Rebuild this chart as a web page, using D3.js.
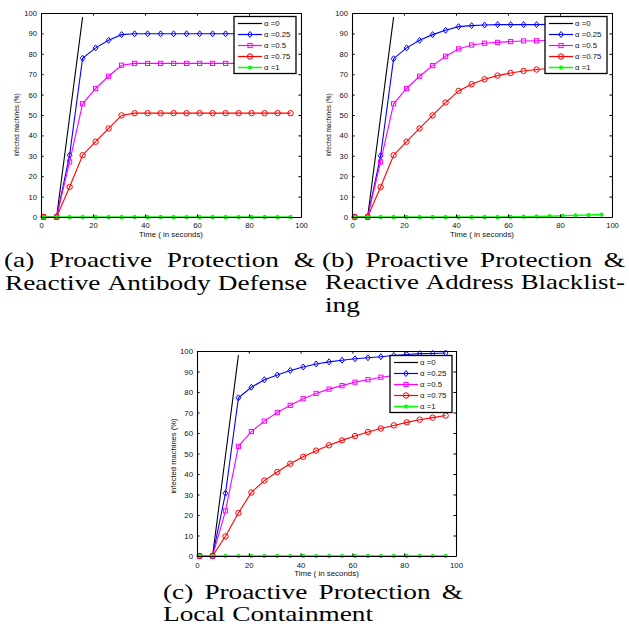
<!DOCTYPE html>
<html>
<head>
<meta charset="utf-8">
<script src="https://cdn.jsdelivr.net/npm/d3@7/dist/d3.min.js"></script>
<style>
  body { margin: 0; background: #fff; }
  .axis text, .lbl, .leg text { font-family: "Liberation Sans", Arial, sans-serif; fill: #111; }
  .cap { font-family: "Liberation Serif", "Times New Roman", serif; fill: #000; }
</style>
</head>
<body>
<script>
// sample times (seconds) shared by every curve
var time = [1, 6, 11, 16, 21, 26, 31, 36, 41, 46, 51, 56, 61, 66, 71, 76, 81, 86, 91, 96];
var alphaLabels = ["\u03b1 =0", "\u03b1 =0.25", "\u03b1 =0.5", "\u03b1 =0.75", "\u03b1 =1"];
var xTicks = [0, 20, 40, 60, 80, 100];
var yTicks = [0, 10, 20, 30, 40, 50, 60, 70, 80, 90, 100];

// (a) reactive antibody defense
var antibody0   = [0, 0, 49, 98];
var antibody25  = [0, 0, 30.3, 77.8, 82.9, 86.6, 89.4, 89.8, 89.8, 89.8, 89.8, 89.8, 89.8, 89.8, 89.8, 89.8, 89.8, 89.8, 89.8, 89.8];
var antibody50  = [0, 0, 27, 55.5, 63, 69, 74.4, 75.3, 75.3, 75.3, 75.3, 75.3, 75.3, 75.3, 75.3, 75.3, 75.3, 75.3, 75.3, 75.3];
var antibody75  = [0, 0, 14.7, 30.3, 36.9, 43.4, 49.8, 50.9, 50.9, 50.9, 50.9, 50.9, 50.9, 50.9, 50.9, 50.9, 50.9, 50.9, 50.9, 50.9];
var antibody100 = [0, 0, 0, 0, 0, 0, 0, 0, 0, 0, 0, 0, 0, 0, 0, 0, 0, 0, 0, 0];

// (b) reactive address blacklisting
var blacklist0   = [0, 0, 49, 98];
var blacklist25  = [0, 0, 30, 77.6, 82.9, 86.6, 89.4, 91.5, 93.3, 93.8, 94.1, 94.3, 94.3, 94.3, 94.3, 94.4, 94.4, 94.4, 94.4, 94.4];
var blacklist50  = [0, 0, 27, 55.5, 63, 69, 74.2, 78.8, 82.4, 84.3, 85.2, 85.6, 86, 86.3, 86.4, 86.5, 86.6, 86.6, 86.7, 86.7];
var blacklist75  = [0, 0, 14.7, 30.3, 36.9, 43.4, 49.8, 56.1, 61.8, 65.1, 67.5, 69.3, 70.6, 71.6, 72.3, 72.8, 73.2, 73.5, 73.7, 73.9];
var blacklist100 = [0, 0, 0, 0, 0, 0, 0, 0, 0, 0, 0, 0, 0.1, 0.2, 0.3, 0.4, 0.6, 0.8, 1.0, 1.2];

// (c) local containment
var contain0   = [0, 0, 49, 98];
var contain25  = [0, 0, 30.6, 77.2, 82.3, 86, 88.3, 90.5, 92.2, 93.7, 94.7, 95.5, 96.2, 96.7, 97.2, 97.8, 98.3, 98.7, 98.8, 99];
var contain50  = [0, 0, 22, 53.5, 60.7, 65.8, 70, 73.5, 76.7, 79.3, 81.4, 83.1, 84.8, 86, 87.2, 88, 88.8, 89.5, 90.1, 90.6];
var contain75  = [0, 0, 9.6, 21, 31, 36.8, 41, 45, 48.4, 51.4, 54, 56.4, 58.5, 60.5, 62.2, 63.7, 65.2, 66.5, 67.5, 68.5];
var contain100 = [0, 0, 0, 0, 0, 0, 0, 0, 0, 0, 0, 0, 0, 0, 0, 0, 0, 0, 0, 0];

var captionA = ["(a) Proactive Protection &", "Reactive Antibody Defense"];
var captionB = ["(b) Proactive Protection &", "Reactive Address Blacklist-", "ing"];
var captionC = ["(c) Proactive Protection &", "Local Containment"];

var colors = ["#000000", "#0000ff", "#ff00ff", "#ff0000", "#00ff00"];
var markers = [null, "diamond", "square", "circle", "star"];

var svg = d3.select("body").append("svg")
    .attr("width", 629)
    .attr("height", 633)
    .style("display", "block");
svg.append("rect").attr("width", 629).attr("height", 633).attr("fill", "#fff");

function drawMarker(g, type, x, y, color) {
    if (type == "diamond") {
        g.append("path")
            .attr("d", "M" + x + "," + (y - 3) + "L" + (x + 2.4) + "," + y + "L" + x + "," + (y + 3) + "L" + (x - 2.4) + "," + y + "Z")
            .attr("fill", "none").attr("stroke", color).attr("stroke-width", 1);
    } else if (type == "square") {
        g.append("rect").attr("x", x - 2.1).attr("y", y - 2.1).attr("width", 4.2).attr("height", 4.2)
            .attr("fill", "none").attr("stroke", color).attr("stroke-width", 1);
    } else if (type == "circle") {
        g.append("circle").attr("cx", x).attr("cy", y).attr("r", 2.7)
            .attr("fill", "none").attr("stroke", color).attr("stroke-width", 1);
    } else if (type == "star") {
        var r = 2, d = 1.5;
        g.append("path")
            .attr("d", "M" + (x - r) + "," + y + "h" + 2 * r + "M" + x + "," + (y - r) + "v" + 2 * r +
                "M" + (x - d) + "," + (y - d) + "l" + 2 * d + "," + 2 * d + "M" + (x - d) + "," + (y + d) + "l" + 2 * d + "," + (-2 * d))
            .attr("fill", "none").attr("stroke", color).attr("stroke-width", 1.2);
    }
}

function drawPanel(p) {
    var x = d3.scaleLinear().domain([0, 100]).range([p.left, p.right]);
    var y = d3.scaleLinear().domain([0, 100]).range([p.bottom, p.top]);
    var g = svg.append("g");

    // curves
    p.series.forEach(function(vals, i) {
        var pts = vals.map(function(v, k) { return [time[k], v]; });
        var line = d3.line().x(function(d) { return x(d[0]); }).y(function(d) { return y(d[1]); });
        g.append("path")
            .attr("d", line(pts))
            .attr("fill", "none")
            .attr("stroke", colors[i])
            .attr("stroke-width", i == 4 ? 1.4 : 1.1);
        if (markers[i]) {
            pts.forEach(function(d) { drawMarker(g, markers[i], x(d[0]), y(d[1]), colors[i]); });
        }
    });

    // axes, MATLAB style: box with inward ticks on all sides
    var tk = 2.6;
    g.append("g").attr("class", "axis")
        .attr("transform", "translate(0," + p.bottom + ")")
        .call(d3.axisBottom(x).tickValues(xTicks).tickSize(-tk).tickSizeOuter(0).tickPadding(6));
    g.append("g").attr("class", "axis")
        .attr("transform", "translate(0," + p.top + ")")
        .call(d3.axisTop(x).tickValues(xTicks).tickSize(-tk).tickSizeOuter(0).tickFormat(""));
    g.append("g").attr("class", "axis")
        .attr("transform", "translate(" + p.left + ",0)")
        .call(d3.axisLeft(y).tickValues(yTicks).tickSize(-tk).tickSizeOuter(0).tickPadding(4));
    g.append("g").attr("class", "axis")
        .attr("transform", "translate(" + p.right + ",0)")
        .call(d3.axisRight(y).tickValues(yTicks).tickSize(-tk).tickSizeOuter(0).tickFormat(""));
    g.selectAll(".axis text").style("font-size", p.tickFont + "px").attr("fill", "#111");
    g.selectAll(".axis path, .axis line").attr("stroke", "#000").attr("stroke-width", 1);
    g.selectAll(".axis path").attr("stroke-width", 1.1);

    // labels
    g.append("text").attr("class", "lbl")
        .attr("x", (p.left + p.right) / 2).attr("y", p.bottom + p.xlabelDy)
        .attr("text-anchor", "middle")
        .style("font-size", p.xlabelFont + "px")
        .text("Time ( in seconds)");
    g.append("text").attr("class", "lbl")
        .attr("transform", "translate(" + p.ylabelX + "," + p.ylabelY + ") rotate(-90)")
        .attr("text-anchor", "middle")
        .style("font-size", p.ylabelFont + "px")
        .text("infected machines (%)");

    // legend
    var lg = g.append("g").attr("class", "leg").attr("transform", "translate(" + p.legX + "," + p.legY + ")");
    lg.append("rect").attr("width", 62).attr("height", 57)
        .attr("fill", "#fff").attr("stroke", "#000").attr("stroke-width", 1.3);
    alphaLabels.forEach(function(lab, i) {
        var ly = 7 + i * 11;
        lg.append("line").attr("x1", 4).attr("x2", 28).attr("y1", ly).attr("y2", ly)
            .attr("stroke", colors[i]).attr("stroke-width", i == 4 ? 1.5 : 1.2);
        if (markers[i]) drawMarker(lg, markers[i], 16, ly, colors[i]);
        lg.append("text").attr("x", 30).attr("y", ly + 2.8)
            .style("font-size", "7.8px").text(lab);
    });
}

drawPanel({left: 41, right: 301, top: 13, bottom: 217, series: [antibody0, antibody25, antibody50, antibody75, antibody100],
    tickFont: 7.6, xlabelFont: 7.8, xlabelDy: 20, ylabelFont: 6.4, ylabelX: 19, ylabelY: 125, legX: 234, legY: 16.5});
drawPanel({left: 352, right: 612, top: 13, bottom: 217, series: [blacklist0, blacklist25, blacklist50, blacklist75, blacklist100],
    tickFont: 7.6, xlabelFont: 7.8, xlabelDy: 20, ylabelFont: 6.4, ylabelX: 331, ylabelY: 125, legX: 545, legY: 16.5});
drawPanel({left: 197, right: 456, top: 351, bottom: 556, series: [contain0, contain25, contain50, contain75, contain100],
    tickFont: 7.8, xlabelFont: 7.9, xlabelDy: 19.5, ylabelFont: 7.6, ylabelX: 176, ylabelY: 456, legX: 390, legY: 355.5});

// captions: computer-modern-like width via a common horizontal stretch, justified lines spread word gaps
var capSize = 21;
var probe = svg.append("text").attr("class", "cap").style("font-size", capSize + "px").text("Reactive Antibody Defense");
var stretch = 300 / probe.node().getComputedTextLength();
probe.remove();

function captionLine(txt, x0, base, width) {
    var g = svg.append("g");
    var words = txt.split(" ");
    var widths = words.map(function(w) {
        var t = g.append("text").attr("class", "cap").style("font-size", capSize + "px").text(w);
        var len = t.node().getComputedTextLength();
        t.remove();
        return len;
    });
    var minGap = capSize * 0.26;
    var gap = minGap, s = stretch;
    if (width && words.length > 1) {
        gap = (width / s - d3.sum(widths)) / (words.length - 1);
        if (gap < minGap) {
            // line too long for the column: keep a normal gap, squeeze the glyphs a bit
            gap = minGap;
            s = width / (d3.sum(widths) + gap * (words.length - 1));
        }
    }
    g.attr("transform", "translate(" + x0 + "," + base + ") scale(" + s + ",1)");
    var cx = 0;
    words.forEach(function(w, i) {
        g.append("text").attr("class", "cap").style("font-size", capSize + "px")
            .attr("x", cx).attr("y", 0).text(w);
        cx += widths[i] + gap;
    });
}

captionLine(captionA[0], 4, 267, 311);
captionLine(captionA[1], 5, 289.5, null);
captionLine(captionB[0], 322, 266.5, 303);
captionLine(captionB[1], 325, 289, 300);
captionLine(captionB[2], 325, 311.5, null);
captionLine(captionC[0], 163, 598.5, 300);
captionLine(captionC[1], 163, 621, null);
</script>
</body>
</html>
